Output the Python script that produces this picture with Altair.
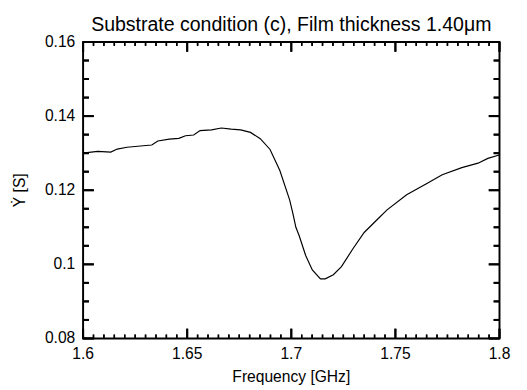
import altair as alt
import pandas as pd

freq = [1.6008, 1.6070, 1.6133, 1.6164, 1.6211, 1.6250, 1.6289, 1.6330, 1.6359, 1.6414,
        1.6460, 1.6492, 1.6531, 1.6562, 1.6617, 1.6664, 1.6711, 1.6757, 1.6804, 1.6851,
        1.6898, 1.6945, 1.6992, 1.7007, 1.7022, 1.7038, 1.7069, 1.7101, 1.7140, 1.7163,
        1.7202, 1.7241, 1.7296, 1.7350, 1.7413, 1.7460, 1.7554, 1.7647, 1.7725, 1.7819,
        1.7897, 1.7944, 1.7999]
admit = [0.1301, 0.1305, 0.1303, 0.1311, 0.1316, 0.1318, 0.1320, 0.1322, 0.1333, 0.1338,
         0.1340, 0.1347, 0.1349, 0.1361, 0.1363, 0.1368, 0.1365, 0.1363, 0.1356, 0.1339,
         0.1310, 0.1253, 0.1174, 0.1139, 0.1100, 0.1077, 0.1024, 0.0985, 0.0961, 0.0961,
         0.0972, 0.0994, 0.1042, 0.1086, 0.1121, 0.1147, 0.1188, 0.1217, 0.1242, 0.1261,
         0.1273, 0.1286, 0.1295]

x_major = [1.6, 1.65, 1.7, 1.75, 1.8]
x_labels = ["1.6", "1.65", "1.7", "1.75", "1.8"]
y_major = [0.08, 0.1, 0.12, 0.14, 0.16]
y_labels = ["0.08", "0.1", "0.12", "0.14", "0.16"]
x_minor = [round(1.6 + 0.005 * i, 3) for i in range(41) if i % 10 != 0]
y_minor = [round(0.08 + 0.005 * i, 3) for i in range(17) if i % 4 != 0]
x_title = ["Frequency [GHz]"]
y_title = ["Ẏ [S]"]

W, H = 427, 304
FONT = "Liberation Sans"
xs = alt.Scale(domain=[1.6, 1.8], nice=False, zero=False)
ys = alt.Scale(domain=[0.08, 0.16], nice=False, zero=False)

df = pd.DataFrame({"f": freq, "y": admit})

line = alt.Chart(df).mark_line(color="black", strokeWidth=1.2).encode(
    x=alt.X("f:Q", scale=xs, axis=None),
    y=alt.Y("y:Q", scale=ys, axis=None),
)

def xticks(vals, length, sw):
    d = pd.DataFrame({"v": vals})
    out = []
    for y0, y1 in [(H, H - length), (0, length)]:
        out.append(alt.Chart(d).mark_rule(color="black", strokeWidth=sw).encode(
            x=alt.X("v:Q", scale=xs, axis=None), y=alt.value(y0), y2=alt.value(y1)))
        out.append(alt.Chart(d).mark_tick(color="black", orient="vertical", size=length,
                                          thickness=sw, opacity=1).encode(
            x=alt.X("v:Q", scale=xs, axis=None), y=alt.value((y0 + y1) / 2)))
    return out

def yticks(vals, length, sw):
    d = pd.DataFrame({"v": vals})
    out = []
    for x0, x1 in [(0, length), (W, W - length)]:
        out.append(alt.Chart(d).mark_rule(color="black", strokeWidth=sw).encode(
            y=alt.Y("v:Q", scale=ys, axis=None), x=alt.value(x0), x2=alt.value(x1)))
        out.append(alt.Chart(d).mark_tick(color="black", orient="horizontal", size=length,
                                          thickness=sw, opacity=1).encode(
            y=alt.Y("v:Q", scale=ys, axis=None), x=alt.value((x0 + x1) / 2)))
    return out

xlab = alt.Chart(pd.DataFrame({"v": x_major, "t": x_labels})).mark_text(
    font=FONT, fontSize=16, color="black", align="center", baseline="top"
).encode(x=alt.X("v:Q", scale=xs, axis=None), y=alt.value(H + 8), text="t:N")

ylab = alt.Chart(pd.DataFrame({"v": y_major, "t": y_labels})).mark_text(
    font=FONT, fontSize=16, color="black", align="right", baseline="middle"
).encode(y=alt.Y("v:Q", scale=ys, axis=None), x=alt.value(-8), text="t:N")

xtit = alt.Chart(pd.DataFrame({"t": x_title})).mark_text(
    font=FONT, fontSize=16, color="black", align="center", baseline="top"
).encode(x=alt.value(W / 2), y=alt.value(H + 32), text="t:N")

ytit = alt.Chart(pd.DataFrame({"t": y_title})).mark_text(
    font=FONT, fontSize=16, color="black", align="center", baseline="middle", angle=270
).encode(x=alt.value(-65), y=alt.value(H / 2), text="t:N")

layers = [line] + xticks(x_major, 10, 2) + xticks(x_minor, 4, 1.5) \
    + yticks(y_major, 11, 2) + yticks(y_minor, 6, 2) + [xlab, ylab, xtit, ytit]

chart = alt.layer(*layers).properties(
    width=W, height=H,
    title=alt.TitleParams("Substrate condition (c), Film thickness 1.40μm",
                          font=FONT, fontSize=20, fontWeight="normal",
                          color="black", offset=4, dy=5),
    autosize=alt.AutoSizeParams(type="none"),
    padding={"left": 77, "top": 30, "right": 20, "bottom": 48},
).configure(
    background="white"
).configure_view(
    stroke="black", strokeWidth=2
)

chart.save("out.html", embed_options={"renderer": "svg", "actions": False})
